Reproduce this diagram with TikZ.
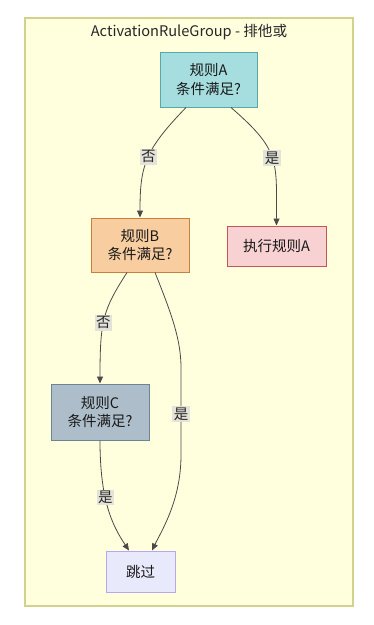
\documentclass[tikz,border=0pt]{standalone}
\usepackage{fontspec}
\setmainfont{Noto Sans CJK SC}
\usetikzlibrary{arrows.meta}
\definecolor{grpfill}{HTML}{FFFFDE}
\definecolor{grpline}{HTML}{D2D28C}
\definecolor{afill}{HTML}{A6DEDF}
\definecolor{aline}{HTML}{5AA7A9}
\definecolor{bfill}{HTML}{F8CDA0}
\definecolor{bline}{HTML}{C8803E}
\definecolor{efill}{HTML}{F8D2D2}
\definecolor{eline}{HTML}{C05858}
\definecolor{cfill}{HTML}{ADBECA}
\definecolor{cline}{HTML}{6C8494}
\definecolor{sfill}{HTML}{E9E9FC}
\definecolor{sline}{HTML}{B9A6EC}
\definecolor{edgec}{HTML}{4A4A4A}
\definecolor{lblbg}{HTML}{E3E3DA}
\tikzset{
  x=1pt,y=-1pt,
  box/.style={draw, line width=1pt, align=center, font=\fontsize{14.5}{18.5}\selectfont, text=black!90, inner sep=0pt},
  flow/.style={draw=edgec, line width=0.8pt, -{Triangle[length=7pt,width=6pt]}},
  lbl/.style={fill=lblbg, font=\fontsize{14.5}{16}\selectfont, text=black!85, inner sep=1.5pt}
}
\begin{document}
\begin{tikzpicture}
\useasboundingbox (0,0) rectangle (374,625);
\fill[white] (0,0) rectangle (374,625);
\draw[fill=grpfill, draw=grpline, line width=1.2pt] (25,18) rectangle (353,606);
\node[font=\fontsize{14.6}{16}\selectfont, text=black!85] (title) at (189,32) {ActivationRuleGroup - 排他或};

\node[box, fill=afill, draw=aline, minimum width=97pt, minimum height=55pt] (A) at (208.5,79.5) {规则A\\条件满足?};
\node[box, fill=bfill, draw=bline, minimum width=98pt, minimum height=54pt] (B) at (140,245) {规则B\\条件满足?};
\node[box, fill=efill, draw=eline, minimum width=99pt, minimum height=40pt] (E) at (276.5,246) {执行规则A};
\node[box, fill=cfill, draw=cline, minimum width=98pt, minimum height=56pt] (C) at (100,412) {规则C\\条件满足?};
\node[box, fill=sfill, draw=sline, minimum width=69pt, minimum height=41pt] (S) at (140.5,571.5) {跳过};

\draw[flow] ([xshift=-22.5pt]A.south) .. controls (145,150) and (140,165) .. (B.north)
  node[lbl, pos=0.48] (l1) {否};
\draw[flow] ([xshift=22.5pt]A.south) .. controls (280,150) and (276.5,160) .. (E.north)
  node[lbl, pos=0.5] (l2) {是};
\draw[flow] ([xshift=-13pt]B.south) .. controls (103,310) and (100,320) .. (C.north)
  node[lbl, pos=0.55] (l3) {否};
\coordinate (b1) at (181,368);
\coordinate (b2) at (181,455);
\draw[flow] ([xshift=15pt]B.south) .. controls (172,315) and (181,340) .. (b1) -- (b2)
  .. controls (181,500) and (162,530) .. ([xshift=11.5pt]S.north);
\node[lbl] (l4) at (181,414) {是};
\draw[flow] (C.south) .. controls (100,500) and (112,525) .. ([xshift=-11.5pt]S.north)
  node[lbl, pos=0.4] (l5) {是};
\end{tikzpicture}
\end{document}
